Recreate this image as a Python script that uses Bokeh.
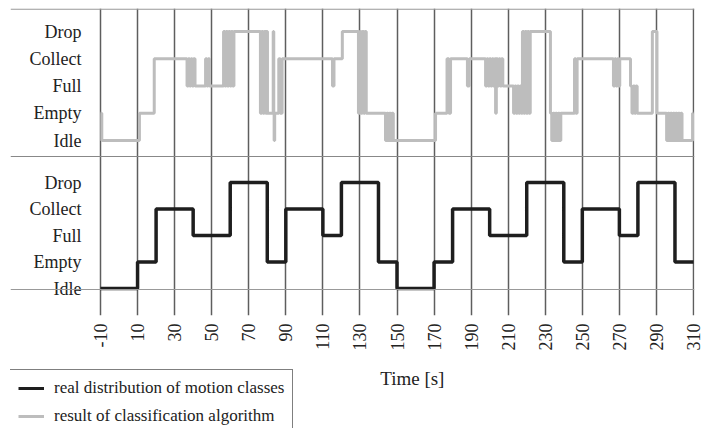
import math
from bokeh.plotting import figure
from bokeh.layouts import column
from bokeh.models import Range1d, FixedTicker, Span, Legend, LegendItem, Label
from bokeh.core.properties import value
from bokeh.embed import file_html
from bokeh.resources import INLINE

# ---------------- data ----------------
STATES = ["Idle", "Empty", "Full", "Collect", "Drop"]          # codes 0..4
STATE_CODES = [0, 1, 2, 3, 4]
TICKS = [-10, 10, 30, 50, 70, 90, 110, 130, 150, 170, 190, 210, 230, 250, 270, 290, 310]

# real distribution of motion classes (state holds from each time to the next)
REAL_T = [-10, 10, 20, 40, 60, 80, 90, 110, 120, 140, 150, 170, 180, 200, 220, 240, 250, 270, 280, 300, 310]
REAL_S = [0, 1, 3, 2, 4, 1, 3, 2, 4, 1, 0, 1, 3, 2, 4, 1, 3, 2, 4, 1, 1]

# result of the classification algorithm: (time, state after that time)
CLASS_EVENTS = [
    (-10, 1), (-9.3, 0), (11, 1), (19, 3),
    (36.7, 2), (37.4, 3), (38.1, 2), (38.8, 3), (39.5, 2), (40.2, 3), (41, 2),
    (46.7, 3), (47.4, 2), (48.1, 3), (48.8, 2),
    (56.4, 4), (57.1, 2), (57.8, 4), (58.5, 2), (59.2, 4), (59.9, 2), (60.6, 4), (61.3, 2), (62, 4),
    (76.3, 1), (77, 4), (77.7, 1), (78.4, 4), (79.1, 1), (79.6, 4), (80.1, 1),
    (83.2, 4), (83.5, 1), (83.7, 0), (84, 1),
    (86.2, 3), (87, 1), (88, 3),
    (115.2, 2), (116, 3),
    (120.5, 4),
    (129.2, 1), (129.9, 4), (130.6, 1), (131.3, 4), (132, 1), (132.7, 4), (133.4, 1),
    (143.8, 0), (144.5, 1), (145.2, 0), (145.9, 1), (146.6, 0), (147.3, 1), (148, 0),
    (170.8, 1),
    (177, 3), (178, 1), (178.9, 3),
    (188, 2), (189, 3),
    (197.8, 2), (198.5, 3), (199.2, 2), (199.9, 3), (200.6, 2), (201.3, 3), (202, 2), (202.7, 3),
    (203.2, 1), (203.6, 3), (204.3, 2), (205, 3), (205.7, 2), (206.4, 3), (207.1, 2),
    (212.9, 1), (213.6, 2), (214.3, 1), (215, 2), (215.7, 1), (216.4, 2), (217.1, 1),
    (217.7, 4), (218.4, 1), (219.1, 4), (219.8, 1), (220.5, 4), (221.2, 1), (221.9, 4),
    (232.8, 1), (233.5, 0), (234.2, 1), (234.9, 0), (235.6, 1), (236.3, 0), (237, 1), (237.7, 0), (238.4, 1),
    (245.8, 3), (246.5, 1), (247.2, 3),
    (266.8, 2), (267.5, 3), (268.2, 2), (268.9, 3), (269.6, 2), (270.2, 3),
    (276, 2), (276.8, 1), (277.5, 2), (278.2, 1), (278.9, 2), (279.6, 1),
    (287.8, 4), (290.3, 1),
    (295.5, 0), (296.2, 1), (296.9, 0), (297.6, 1), (298.3, 0), (299, 1), (299.7, 0), (300.4, 1),
    (301.1, 0), (301.8, 1), (302.5, 0), (303.2, 1), (303.8, 0),
    (309.5, 1), (310, 1),
]
CLASS_T = [e[0] for e in CLASS_EVENTS]
CLASS_S = [e[1] for e in CLASS_EVENTS]

LEGEND_LABELS = ["real distribution of motion classes", "result of classification algorithm"]
X_TITLE = "Time [s]"

# ---------------- layout ----------------
W = 703
H_MAIN, H_LEG = 360, 68
FRAME_L, FRAME_R, FRAME_T, FRAME_B = 10, 694, 8, 315
PX_PER_S = 593 / 320.0
X0 = -10 - (100 - FRAME_L) / PX_PER_S
X1 = X0 + (FRAME_R - FRAME_L) / PX_PER_S

IDLE_PX_BOT = 288      # pixel row of the lower-panel Idle level
BOT_PX = 26.5          # px per state level, lower panel
B0 = -(FRAME_B - IDLE_PX_BOT) / BOT_PX
B1 = B0 + (FRAME_B - FRAME_T) / BOT_PX
TOP_PX = 27.25         # px per state level, upper panel
T1 = 4 + 23 / TOP_PX
T0 = T1 - (FRAME_B - FRAME_T) / TOP_PX

def bot_at(px):
    return B0 + (FRAME_B - px) / BOT_PX

SERIF = "Liberation Serif"
TXT = "#222222"
GREY = "#bdbdbd"
BLACK = "#1e1e1e"

p = figure(width=W, height=H_MAIN, output_backend="svg", toolbar_location=None,
           x_range=Range1d(X0, X1), y_range=Range1d(B0, B1),
           y_axis_location=None,
           min_border_left=FRAME_L, min_border_right=W - FRAME_R,
           min_border_top=FRAME_T, min_border_bottom=H_MAIN - FRAME_B)
p.extra_y_ranges = {"top": Range1d(T0, T1)}
p.outline_line_color = None
p.background_fill_color = "white"
p.border_fill_color = "white"
p.ygrid.visible = False

ticker = FixedTicker(ticks=TICKS)
ax = p.xaxis[0]
ax.ticker = ticker
ax.major_label_overrides = {t: str(t) for t in TICKS}
ax.major_label_orientation = math.pi / 2
ax.major_label_text_font = SERIF
ax.major_label_text_font_size = "18px"
ax.major_label_text_color = TXT
ax.major_label_standoff = 8
ax.major_tick_in = 0
ax.major_tick_out = 0
ax.minor_tick_line_color = None
ax.axis_line_color = None

p.xgrid.ticker = ticker
p.xgrid.grid_line_color = "#5e5e5e"
p.xgrid.grid_line_width = 1.5
p.xgrid.grid_line_alpha = 1.0

# horizontal frame lines: top border, panel separator, Idle baseline of lower panel
p.add_layout(Span(location=bot_at(FRAME_T + 0.6), dimension="width", line_color="#999999", line_width=1.2))
p.add_layout(Span(location=bot_at(156), dimension="width", line_color="#888888", line_width=1.2))
p.add_layout(Span(location=bot_at(289), dimension="width", line_color="#999999", line_width=1.2))

# series
r_class = p.step(CLASS_T, CLASS_S, mode="after", y_range_name="top",
                 line_color=GREY, line_width=3)
r_real = p.step(REAL_T, REAL_S, mode="after", line_color=BLACK, line_width=3.5)

# state labels on both panels
LABEL_X = -10 - 19 / PX_PER_S
p.text(x=[LABEL_X] * len(STATES), y=STATE_CODES, text=STATES,
       text_font=value(SERIF), text_font_size="18px", text_color=TXT,
       text_align="right", text_baseline="middle")
p.text(x=[LABEL_X] * len(STATES), y=STATE_CODES, text=STATES, y_range_name="top",
       text_font=value(SERIF), text_font_size="18px", text_color=TXT,
       text_align="right", text_baseline="middle")

# ---------------- lower strip: axis title + legend ----------------
q = figure(width=W, height=H_LEG, output_backend="svg", toolbar_location=None,
           x_range=Range1d(0, W), y_range=Range1d(-(H_MAIN + H_LEG), -H_MAIN),
           x_axis_location=None, y_axis_location=None,
           min_border=0, min_border_left=0, min_border_right=0,
           min_border_top=0, min_border_bottom=0)
q.outline_line_color = None
q.xgrid.visible = False
q.ygrid.visible = False
q.background_fill_color = "white"
q.border_fill_color = "white"

q.add_layout(Label(x=413, y=-378, text=X_TITLE, text_font=SERIF, text_font_size="19px",
                   text_color=TXT, text_align="center", text_baseline="middle"))

# legend proxies: the main series re-used off-screen in this strip (only their legend glyphs show)
l_real = q.step(REAL_T, REAL_S, mode="after", line_color=BLACK, line_width=3)
l_class = q.step(CLASS_T, CLASS_S, mode="after", line_color=GREY, line_width=3)
legend = Legend(items=[LegendItem(label=LEGEND_LABELS[0], renderers=[l_real]),
                       LegendItem(label=LEGEND_LABELS[1], renderers=[l_class])],
                location=(-1, -7), orientation="vertical",
                label_text_font=SERIF, label_text_font_size="17px", label_text_color=TXT,
                glyph_width=26, glyph_height=18, label_height=18, label_standoff=10,
                padding=8, spacing=8, margin=0,
                border_line_color="black", border_line_width=1,
                background_fill_color="white", background_fill_alpha=1.0)
q.add_layout(legend)

layout = column(p, q, spacing=0)
open("out.html", "w").write(file_html(layout, INLINE))
